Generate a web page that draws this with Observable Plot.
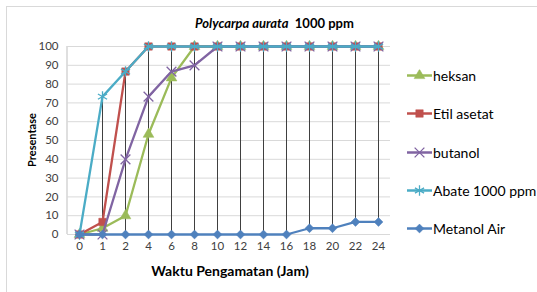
<!DOCTYPE html>
<html><head><meta charset="utf-8">
<script src="https://cdn.jsdelivr.net/npm/d3@7"></script>
<script src="https://cdn.jsdelivr.net/npm/@observablehq/plot@0.6"></script>
<style>
body{margin:0;background:#fff;font-family:Lato,"Open Sans",sans-serif;}
#wrap{position:relative;width:537px;height:292px;overflow:hidden;}
#frame{position:absolute;left:6px;top:6px;width:600px;height:400px;border:1px solid #d9d9d9;box-sizing:border-box;}
#title{position:absolute;top:15px;left:195px;font-size:13px;font-weight:bold;color:#000;white-space:nowrap;}
#ylab{position:absolute;left:31px;top:140px;transform:translate(-50%,-50%) rotate(-90deg);font-size:11px;font-weight:bold;white-space:nowrap;}
#xlab{position:absolute;left:230px;top:270px;transform:translate(-50%,-50%);font-size:14px;font-weight:bold;white-space:nowrap;}
.leg{position:absolute;left:407px;display:flex;align-items:center;font-size:14px;color:#000;white-space:nowrap;transform:translateY(-50%);}
.leg svg{margin-right:1px;}
</style>
</head><body>
<div id="wrap"><div id="frame"></div><div id="chart" style="position:absolute;left:0;top:0"></div>
<div id="title"><i>Polycarpa aurata</i>&nbsp; 1000 ppm</div>
<div id="ylab">Presentase</div>
<div id="xlab">Waktu Pengamatan (Jam)</div>
<div id="legend"></div>
</div>
<script>
const hours = ["0","1","2","4","6","8","10","12","14","16","18","20","22","24"];
const heksan     = [0, 3.33, 10, 53.33, 83.33, 100, 100, 100, 100, 100, 100, 100, 100, 100];
const etilAsetat = [0, 6.67, 86.67, 100, 100, 100, 100, 100, 100, 100, 100, 100, 100, 100];
const butanol    = [0, 0, 40, 73.33, 86.67, 90, 100, 100, 100, 100, 100, 100, 100, 100];
const abate      = [0, 73.33, 86.67, 100, 100, 100, 100, 100, 100, 100, 100, 100, 100, 100];
const metanolAir = [0, 0, 0, 0, 0, 0, 0, 0, 0, 0, 3.33, 3.33, 6.67, 6.67];
const seriesNames = ["heksan","Etil asetat","butanol","Abate 1000 ppm","Metanol Air"];
const yTicks = [0,10,20,30,40,50,60,70,80,90,100];

const seriesValues = [heksan, etilAsetat, butanol, abate, metanolAir];
const colors = ["#9BBB59","#C0504D","#8064A2","#4BACC6","#4F81BD"];
const symbols = ["triangle","square","times","asterisk","diamond2"];
const fills = [true,true,false,false,true];
const rs = [4,4.2,4.5,5,4];

const data = [];
seriesNames.forEach((s,i)=>hours.forEach((h,j)=>data.push({series:s, idx:i, t:h, v:seriesValues[i][j]})));

const marks = [
  Plot.ruleY(yTicks, {stroke:"#d9d9d9", strokeWidth:1}),
  Plot.ruleX(data, Plot.groupX({y1:"min", y2:"max"}, {x:"t", y1:"v", y2:"v", stroke:"#404040", strokeWidth:1}))
];
seriesNames.forEach((s,i)=>{
  const d = data.filter(e=>e.idx===i);
  marks.push(Plot.line(d, {x:"t", y:"v", stroke:colors[i], strokeWidth:2.3}));
  marks.push(Plot.dot(d, {x:"t", y:"v", symbol:()=>symbols[i], r:rs[i],
    fill: fills[i] ? colors[i] : "none", stroke: colors[i], strokeWidth: fills[i]?0.5:1.3}));
});

const chart = Plot.plot({
  width:537, height:292,
  marginLeft:67, marginRight:147, marginTop:46, marginBottom:58,
  style:{fontFamily:"Lato, 'Open Sans', sans-serif", fontSize:"11.5px", color:"#404040", background:"transparent"},
  x:{type:"point", domain:hours, padding:0.5, label:null},
  y:{domain:[0,100], label:null},
  symbol:{type:"identity"},
  marks:[
    ...marks,
    Plot.axisX({tickSize:0, tickPadding:7, fontSize:11.5}),
    Plot.axisY({ticks:yTicks, tickSize:0, tickPadding:9, fontSize:11.5})
  ]
});
document.getElementById("chart").appendChild(chart);
// left axis line
const svg = d3.select(chart);
svg.insert("line", ":first-child").attr("x1",67).attr("x2",67).attr("y1",46).attr("y2",234).attr("stroke","#bfbfbf");

// legend
const legY = [75,113,152,190,228];
const leg = document.getElementById("legend");
seriesNames.forEach((s,i)=>{
  const div = document.createElement("div");
  div.className="leg"; div.style.top = legY[i]+"px";
  const sv = d3.create("svg").attr("width",25).attr("height",12);
  sv.append("line").attr("x1",0).attr("x2",25).attr("y1",6).attr("y2",6).attr("stroke",colors[i]).attr("stroke-width",2.3);
  const sym = {triangle:d3.symbolTriangle, square:d3.symbolSquare, times:d3.symbolTimes, asterisk:d3.symbolAsterisk, diamond2:d3.symbolDiamond2}[symbols[i]];
  sv.append("path").attr("transform","translate(12.5,6)").attr("d", d3.symbol(sym, Math.PI*rs[i]*rs[i])())
    .attr("fill", fills[i]?colors[i]:"none").attr("stroke",colors[i]).attr("stroke-width",fills[i]?0.5:1.3);
  div.appendChild(sv.node());
  const sp = document.createElement("span"); sp.textContent = s; div.appendChild(sp);
  leg.appendChild(div);
});
</script>
</body></html>
